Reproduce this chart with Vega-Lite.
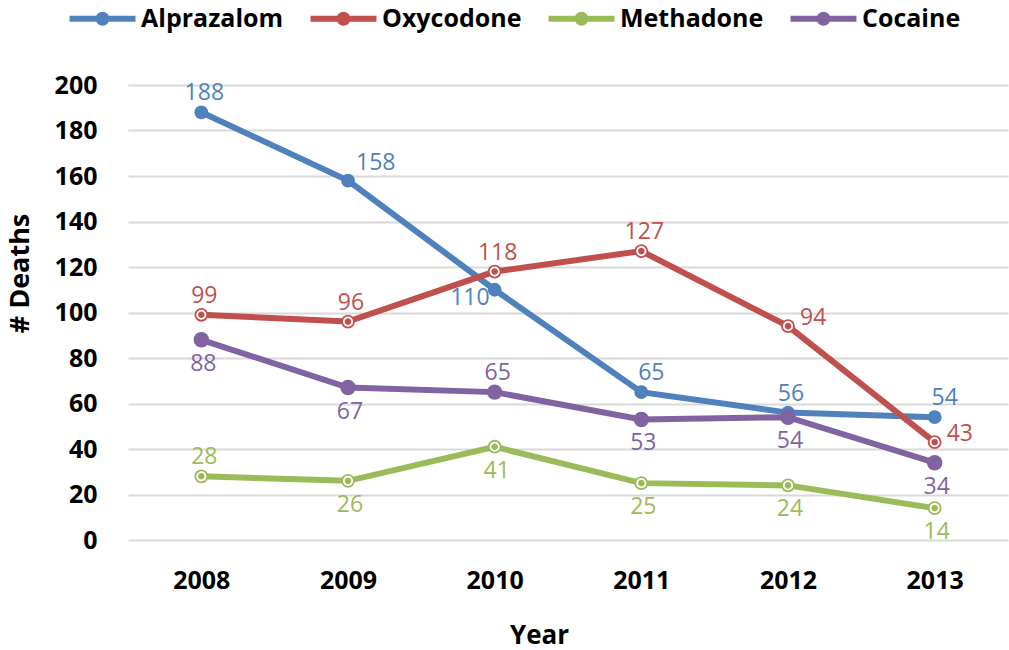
{
  "$schema": "https://vega.github.io/schema/vega-lite/v6.json",
  "width": 880,
  "height": 455,
  "autosize": {"type": "none"},
  "padding": {"left": 128, "top": 85, "right": 1, "bottom": 110},
  "background": "white",
  "config": {
    "view": {"stroke": null},
    "font": "Open Sans",
    "text": {"font": "Open Sans", "fontSize": 23}
  },
  "data": {
    "values": [
      {"year": "2008", "drug": "Alprazalom", "deaths": 188},
      {"year": "2009", "drug": "Alprazalom", "deaths": 158},
      {"year": "2010", "drug": "Alprazalom", "deaths": 110},
      {"year": "2011", "drug": "Alprazalom", "deaths": 65},
      {"year": "2012", "drug": "Alprazalom", "deaths": 56},
      {"year": "2013", "drug": "Alprazalom", "deaths": 54},
      {"year": "2008", "drug": "Oxycodone", "deaths": 99},
      {"year": "2009", "drug": "Oxycodone", "deaths": 96},
      {"year": "2010", "drug": "Oxycodone", "deaths": 118},
      {"year": "2011", "drug": "Oxycodone", "deaths": 127},
      {"year": "2012", "drug": "Oxycodone", "deaths": 94},
      {"year": "2013", "drug": "Oxycodone", "deaths": 43},
      {"year": "2008", "drug": "Methadone", "deaths": 28},
      {"year": "2009", "drug": "Methadone", "deaths": 26},
      {"year": "2010", "drug": "Methadone", "deaths": 41},
      {"year": "2011", "drug": "Methadone", "deaths": 25},
      {"year": "2012", "drug": "Methadone", "deaths": 24},
      {"year": "2013", "drug": "Methadone", "deaths": 14},
      {"year": "2008", "drug": "Cocaine", "deaths": 88},
      {"year": "2009", "drug": "Cocaine", "deaths": 67},
      {"year": "2010", "drug": "Cocaine", "deaths": 65},
      {"year": "2011", "drug": "Cocaine", "deaths": 53},
      {"year": "2012", "drug": "Cocaine", "deaths": 54},
      {"year": "2013", "drug": "Cocaine", "deaths": 34}
    ]
  },
  "encoding": {
    "x": {
      "field": "year", "type": "ordinal",
      "scale": {"type": "point", "padding": 0.5},
      "axis": {
        "title": "Year", "labelAngle": 0, "domain": false, "ticks": false, "grid": false,
        "labelFont": "Open Sans", "labelFontSize": 25, "labelFontWeight": "bold", "labelColor": "#000000",
        "labelPadding": 28,
        "titleFont": "Open Sans", "titleFontSize": 26, "titleFontWeight": "bold", "titleColor": "#000000",
        "titleX": 411, "titleY": 95, "titleAlign": "center", "titleBaseline": "middle"
      }
    },
    "y": {
      "field": "deaths", "type": "quantitative",
      "scale": {"domain": [0, 200], "nice": false},
      "axis": {
        "title": "# Deaths", "values": [0, 20, 40, 60, 80, 100, 120, 140, 160, 180, 200],
        "domain": false, "ticks": false, "grid": true, "gridColor": "#d9d9d9", "gridWidth": 2,
        "labelFont": "Open Sans", "labelFontSize": 25, "labelFontWeight": "bold", "labelColor": "#000000",
        "labelPadding": 31,
        "titleFont": "Open Sans", "titleFontSize": 27, "titleFontWeight": "bold", "titleColor": "#000000",
        "titleX": -108, "titleY": 188, "titleAngle": 270, "titleAlign": "center", "titleBaseline": "middle"
      }
    },
    "color": {
      "field": "drug", "type": "nominal",
      "scale": {
        "domain": ["Alprazalom", "Oxycodone", "Methadone", "Cocaine"],
        "range": ["#4f81bd", "#c0504d", "#9bbb59", "#8064a2"]
      },
      "legend": null
    }
  },
  "layer": [
    {
      "mark": {"type": "line", "strokeWidth": 6},
      "encoding": {
        "color": {
          "field": "drug", "type": "nominal",
          "scale": {
            "domain": ["Alprazalom", "Oxycodone", "Methadone", "Cocaine"],
            "range": ["#4f81bd", "#c0504d", "#9bbb59", "#8064a2"]
          },
          "legend": {
            "title": null, "orient": "none", "direction": "horizontal", "columns": 4,
            "legendX": -38, "legendY": -79,
            "symbolType": "M-5,0H5M-0.6,0A0.6,0.6 0 1,1 0.6,0A0.6,0.6 0 1,1 -0.6,0Z",
            "symbolSize": 174, "symbolStrokeWidth": 6, "symbolFillColor": null,
            "labelFont": "Open Sans", "labelFontSize": 25, "labelFontWeight": "bold", "labelColor": "#000000",
            "labelOffset": 26, "columnPadding": 14, "labelLimit": 300
          }
        }
      }
    },
    {
      "mark": {"type": "point", "filled": true, "opacity": 1},
      "encoding": {
        "size": {"condition": {"test": "datum.drug == 'Cocaine'", "value": 240}, "value": 190}
      }
    },
    {
      "transform": [{"filter": "datum.drug == 'Oxycodone' || datum.drug == 'Methadone'"}],
      "mark": {"type": "point", "filled": false, "size": 70, "stroke": "white", "strokeWidth": 1.8, "opacity": 1}
    },
    {
      "transform": [{"filter": "(datum.drug == 'Alprazalom' && datum.year == '2008') || (datum.drug == 'Alprazalom' && datum.year == '2012') || (datum.drug == 'Oxycodone' && (datum.year == '2008' || datum.year == '2009' || datum.year == '2010' || datum.year == '2011')) || (datum.drug == 'Methadone' && datum.year == '2008') || (datum.drug == 'Cocaine' && datum.year == '2010')"}],
      "mark": {"type": "text", "align": "center", "baseline": "middle", "dy": -19, "dx": 3},
      "encoding": {"text": {"field": "deaths", "type": "quantitative"}}
    },
    {
      "transform": [{"filter": "datum.drug == 'Alprazalom' && (datum.year == '2011' || datum.year == '2013')"}],
      "mark": {"type": "text", "align": "center", "baseline": "middle", "dy": -19, "dx": 10},
      "encoding": {"text": {"field": "deaths", "type": "quantitative"}}
    },
    {
      "transform": [{"filter": "datum.drug == 'Alprazalom' && datum.year == '2009'"}],
      "mark": {"type": "text", "align": "left", "baseline": "middle", "dy": -18, "dx": 8},
      "encoding": {"text": {"field": "deaths", "type": "quantitative"}}
    },
    {
      "transform": [{"filter": "datum.drug == 'Alprazalom' && datum.year == '2010'"}],
      "mark": {"type": "text", "align": "right", "baseline": "middle", "dy": 8, "dx": -5},
      "encoding": {"text": {"field": "deaths", "type": "quantitative"}}
    },
    {
      "transform": [{"filter": "datum.drug == 'Oxycodone' && (datum.year == '2012' || datum.year == '2013')"}],
      "mark": {"type": "text", "align": "left", "baseline": "middle", "dy": -8, "dx": 12},
      "encoding": {"text": {"field": "deaths", "type": "quantitative"}}
    },
    {
      "transform": [{"filter": "(datum.drug == 'Methadone' && datum.year != '2008') || (datum.drug == 'Cocaine' && datum.year != '2010')"}],
      "mark": {"type": "text", "align": "center", "baseline": "middle", "dy": 24, "dx": 2},
      "encoding": {"text": {"field": "deaths", "type": "quantitative"}}
    }
  ]
}
